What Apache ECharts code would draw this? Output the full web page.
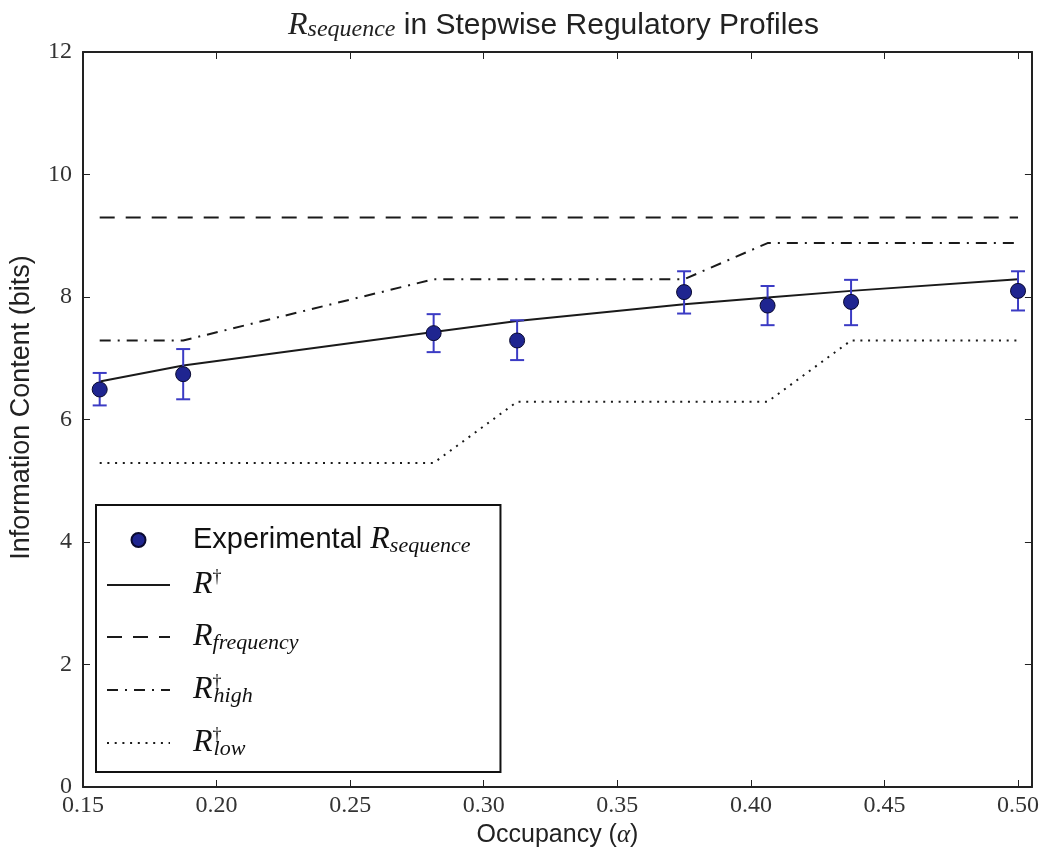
<!DOCTYPE html>
<html>
<head>
<meta charset="utf-8">
<script src="https://cdn.jsdelivr.net/npm/echarts@6/dist/echarts.min.js"></script>
<style>
  html, body { margin: 0; padding: 0; background: #fff; }
  #mainChart { width: 1042px; height: 854px; }
</style>
</head>
<body>
<div id="mainChart"></div>
<script>
// occupancy values (x) of the measured profiles
const occupancy = [0.15625, 0.1875, 0.28125, 0.3125, 0.375, 0.40625, 0.4375, 0.5];
// experimental R_sequence and its error bar ends
const experimental = [6.49, 6.74, 7.41, 7.29, 8.08, 7.86, 7.92, 8.10];
const errLow = [6.23, 6.33, 7.10, 6.97, 7.73, 7.54, 7.54, 7.78];
const errHigh = [6.76, 7.15, 7.72, 7.62, 8.42, 8.18, 8.28, 8.42];
// theory curves
const rDagger = [6.62, 6.88, 7.43, 7.61, 7.88, 7.99, 8.10, 8.29];
const rFrequency = [9.30, 9.30, 9.30, 9.30, 9.30, 9.30, 9.30, 9.30];
const rHigh = [7.29, 7.29, 8.29, 8.29, 8.29, 8.88, 8.88, 8.88];
const rLow = [5.29, 5.29, 5.29, 6.29, 6.29, 6.29, 7.29, 7.29];

const SANS = "'Liberation Sans', Arial, sans-serif";
const SERIF = "'Liberation Serif', 'DejaVu Serif', serif";

function pairs(ys) {
  return occupancy.map(function (x, i) { return [x, ys[i]]; });
}

// legend labels with sub/superscripts
const legendLabels = {
  "Experimental R_sequence": "{t|Experimental }{r|R}{sub|sequence}",
  "R†": "{r|R}{sup|†}",
  "R_frequency": "{r|R}{sub|frequency}",
  "R†_high": "{r|R}{supz|†}{sub|high}",
  "R†_low": "{r|R}{supz|†}{sub|low}",
};

const myChart = echarts.init(document.getElementById("mainChart"));

const lineColor = "#1a1a1a";
const axisCommon = {
  type: "value",
  splitLine: { show: false },
  axisLine: { show: true, onZero: false, lineStyle: { color: "#222", width: 2 } },
  axisTick: { show: true, inside: true, length: 7, lineStyle: { color: "#222", width: 1 } },
};

// hide the default dot that line series put in the legend icon
const noDot = { opacity: 0 };

let option = {
  backgroundColor: "#fff",
  animation: false,
  title: {
    text: "{r|R}{s|sequence}{t| in Stepwise Regulatory Profiles}",
    left: 283,
    top: 5,
    textStyle: {
      fontWeight: "normal",
      rich: {
        r: { fontFamily: SERIF, fontStyle: "italic", fontWeight: "normal", fontSize: 32, lineHeight: 32, color: "#222" },
        s: { fontFamily: SERIF, fontStyle: "italic", fontWeight: "normal", fontSize: 24, lineHeight: 22, padding: [16, 0, 0, 0], verticalAlign: "bottom", color: "#222" },
        t: { fontFamily: SANS, fontWeight: "normal", fontSize: 30, lineHeight: 32, color: "#222" },
      },
    },
  },
  grid: { left: 81, right: 9, top: 52, bottom: 67, containLabel: false },
  xAxis: [
    Object.assign({}, axisCommon, {
      min: 0.15,
      max: 0.5052,
      interval: 0.05,
      name: "Occupancy ({a|α})",
      nameLocation: "middle",
      nameGap: 32,
      nameTextStyle: {
        fontFamily: SANS, fontSize: 25, color: "#222",
        rich: { a: { fontFamily: SERIF, fontStyle: "italic", fontSize: 25, color: "#222" } },
      },
      axisLabel: {
        margin: 7,
        fontFamily: SERIF,
        fontSize: 24,
        color: "#333",
        showMaxLabel: false,
        formatter: function (v) { return v.toFixed(2); },
      },
    }),
    Object.assign({}, axisCommon, {
      position: "top",
      min: 0.15,
      max: 0.5052,
      interval: 0.05,
      axisLabel: { show: false },
    }),
  ],
  yAxis: [
    Object.assign({}, axisCommon, {
      min: 0,
      max: 12,
      interval: 2,
      name: "Information Content (bits)",
      nameLocation: "middle",
      nameGap: 48,
      nameTextStyle: { fontFamily: SANS, fontSize: 27, color: "#222", padding: [0, 0, 0, 24] },
      axisLabel: { margin: 11, fontFamily: SERIF, fontSize: 24, color: "#333" },
    }),
    Object.assign({}, axisCommon, {
      position: "right",
      min: 0,
      max: 12,
      interval: 2,
      axisLabel: { show: false },
    }),
  ],
  legend: {
    orient: "vertical",
    left: 96,
    top: 505,
    data: [
      { name: "Experimental R_sequence" },
      { name: "R†", itemStyle: noDot },
      { name: "R_frequency", itemStyle: noDot },
      { name: "R†_high", itemStyle: noDot },
      { name: "R†_low", itemStyle: noDot },
    ],
    itemWidth: 63,
    itemHeight: 14,
    itemGap: 11,
    padding: [10, 30, 12, 10],
    borderColor: "#111",
    borderWidth: 2,
    backgroundColor: "#fff",
    formatter: function (name) { return legendLabels[name]; },
    textStyle: {
      padding: [0, 0, 0, 18],
      color: "#111",
      rich: {
        t: { fontFamily: SANS, fontSize: 29, lineHeight: 34, color: "#111" },
        r: { fontFamily: SERIF, fontStyle: "italic", fontSize: 32, lineHeight: 34, color: "#111" },
        sub: { fontFamily: SERIF, fontStyle: "italic", fontSize: 22, lineHeight: 22, padding: [20, 0, 0, 0], verticalAlign: "bottom", color: "#111" },
        sup: { fontFamily: SERIF, fontSize: 18, lineHeight: 18, padding: [0, 0, 14, 0], verticalAlign: "top", color: "#111" },
        supz: { fontFamily: SERIF, fontSize: 18, lineHeight: 18, width: 1, padding: [0, 0, 14, 0], verticalAlign: "top", color: "#111" },
      },
    },
  },
  series: [
    {
      name: "errorbars",
      type: "custom",
      data: occupancy.map(function (x, i) { return [x, errLow[i], errHigh[i]]; }),
      z: 3,
      renderItem: function (params, api) {
        const x = api.value(0);
        const lo = api.coord([x, api.value(1)]);
        const hi = api.coord([x, api.value(2)]);
        const style = { stroke: "#3b3bc4", lineWidth: 2 };
        return {
          type: "group",
          children: [
            { type: "line", shape: { x1: lo[0], y1: lo[1], x2: hi[0], y2: hi[1] }, style: style },
            { type: "line", shape: { x1: lo[0] - 7, y1: lo[1], x2: lo[0] + 7, y2: lo[1] }, style: style },
            { type: "line", shape: { x1: hi[0] - 7, y1: hi[1], x2: hi[0] + 7, y2: hi[1] }, style: style },
          ],
        };
      },
    },
    {
      name: "R†",
      type: "line",
      data: pairs(rDagger),
      symbol: "none",
      z: 2,
      lineStyle: { color: lineColor, width: 2 },
      itemStyle: { color: lineColor },
    },
    {
      name: "R_frequency",
      type: "line",
      data: pairs(rFrequency),
      symbol: "none",
      z: 2,
      lineStyle: { color: lineColor, width: 2, type: [15, 11] },
      itemStyle: { color: lineColor },
    },
    {
      name: "R†_high",
      type: "line",
      data: pairs(rHigh),
      symbol: "none",
      z: 2,
      lineStyle: { color: lineColor, width: 2, type: [11, 7, 2, 7] },
      itemStyle: { color: lineColor },
    },
    {
      name: "R†_low",
      type: "line",
      data: pairs(rLow),
      symbol: "none",
      z: 2,
      lineStyle: { color: lineColor, width: 2, type: [2, 5.7] },
      itemStyle: { color: lineColor },
    },
    {
      name: "Experimental R_sequence",
      type: "scatter",
      data: pairs(experimental),
      symbolSize: 15,
      z: 4,
      itemStyle: { color: "#1f2590", borderColor: "#0a0a30", borderWidth: 1, opacity: 1 },
    },
  ],
};

myChart.setOption(option);
</script>
</body>
</html>
